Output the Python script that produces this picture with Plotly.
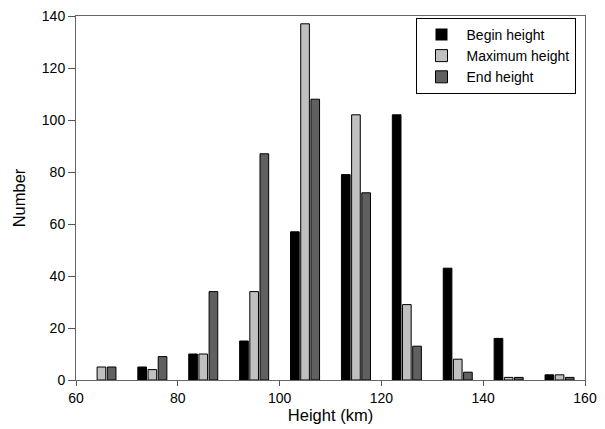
import plotly.graph_objects as go

heights = [65, 75, 85, 95, 105, 115, 125, 135, 145, 155]
begin_height = [0, 5, 10, 15, 57, 79, 102, 43, 16, 2]
maximum_height = [5, 4, 10, 34, 137, 102, 29, 8, 1, 2]
end_height = [5, 9, 34, 87, 108, 72, 13, 3, 1, 1]

series = [
    ("Begin height", begin_height, "#000000", -2.85),
    ("Maximum height", maximum_height, "#c0c0c0", -0.85),
    ("End height", end_height, "#606060", 1.15),
]

fig = go.Figure()
for name, vals, color, off in series:
    fig.add_trace(go.Bar(
        x=heights, y=vals, name=name,
        width=1.7, offset=off,
        marker=dict(color=color,
                    line=dict(color="#000000",
                              width=[1 if v > 0 else 0 for v in vals])),
    ))

fig.update_layout(
    width=605, height=429,
    margin=dict(l=76, r=15, t=8, b=48),
    paper_bgcolor="white", plot_bgcolor="white",
    font=dict(family="Liberation Sans, Arial, sans-serif", size=14, color="#000"),
    barmode="overlay",
    showlegend=True,
    legend=dict(
        x=0.667, y=0.995, xanchor="left", yanchor="top",
        bordercolor="#000", borderwidth=1, bgcolor="white",
        font=dict(size=14), itemwidth=40, tracegroupgap=0,
    ),
    xaxis=dict(
        range=[60, 160], tickvals=[60, 80, 100, 120, 140, 160],
        ticks="outside", ticklen=5, tickcolor="#555",
        showline=True, linecolor="#666", linewidth=1, mirror=True,
        showgrid=False, zeroline=False,
        tickfont=dict(size=14),
        title=dict(text="Height (km)", font=dict(size=16.5), standoff=4),
    ),
    yaxis=dict(
        range=[0, 140], tickvals=[0, 20, 40, 60, 80, 100, 120, 140],
        ticks="outside", ticklen=7, tickcolor="#555",
        showline=True, linecolor="#666", linewidth=1, mirror=True,
        showgrid=False, zeroline=False,
        tickfont=dict(size=14),
        title=dict(text="Number", font=dict(size=16.5), standoff=12),
    ),
)

fig.write_html("out.html")
